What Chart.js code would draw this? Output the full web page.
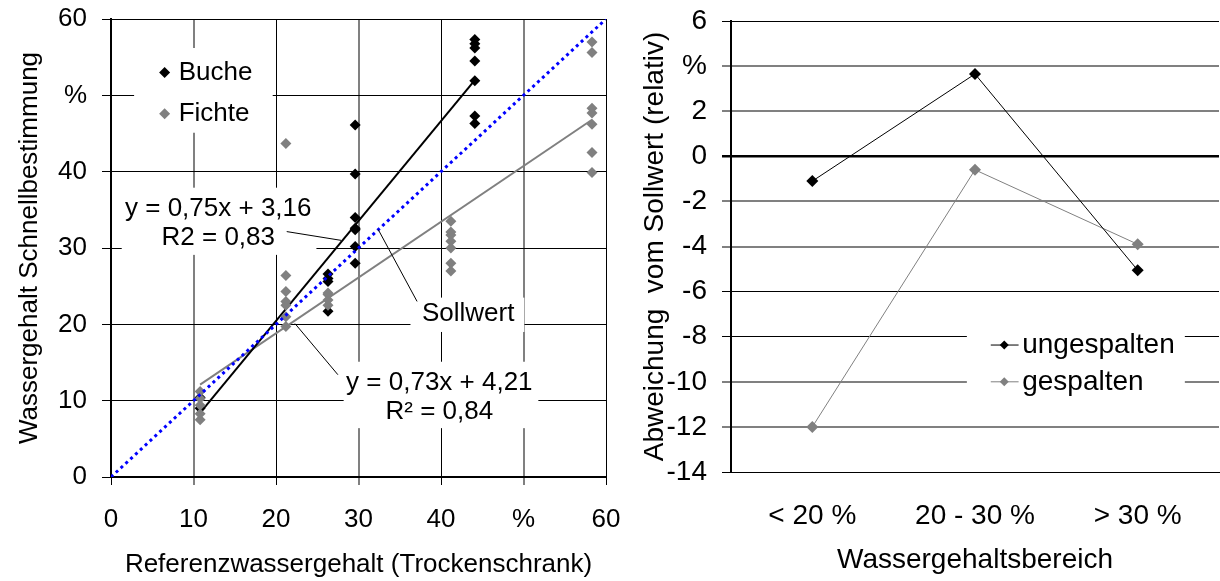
<!DOCTYPE html>
<html>
<head>
<meta charset="utf-8">
<script src="https://cdn.jsdelivr.net/npm/chart.js@4"></script>
<style>
html, body { margin: 0; padding: 0; background: #fff; overflow: hidden; width: 1220px; height: 581px; }
#left { position: absolute; left: 0; top: 0; width: 640px; height: 581px; }
#right { position: absolute; left: 625px; top: 0; width: 600px; height: 581px; }
</style>
</head>
<body>
<div id="left"><canvas id="scatterChart"></canvas></div>
<div id="right"><canvas id="lineChart"></canvas></div>
<script>
// ---- left chart data (Referenz vs. Schnellbestimmung, %) ----
var bucheX = [10.8, 10.8,
    26.3, 26.3, 26.3, 26.3,
    29.6, 29.6, 29.6, 29.6, 29.6, 29.6, 29.6,
    44.1, 44.1, 44.1, 44.1, 44.1, 44.1, 44.1];
var bucheY = [10.4, 9.0,
    26.6, 26.0, 25.6, 21.7,
    46.1, 39.7, 34.0, 32.6, 32.4, 30.2, 28.0,
    57.3, 56.75, 56.2, 54.5, 51.9, 47.3, 46.3];

var fichteX = [10.8, 10.8, 10.8, 10.8, 10.8,
    21.2, 21.2, 21.2, 21.2, 21.2, 21.2, 21.2,
    26.3, 26.3, 26.3, 26.3,
    41.2, 41.2, 41.2, 41.2, 41.2, 41.2, 41.2,
    58.3, 58.3, 58.3, 58.3, 58.3, 58.3, 58.3];
var fichteY = [11.2, 10.3, 9.4, 8.3, 7.5,
    43.7, 26.4, 24.3, 23.0, 22.5, 21.0, 19.7,
    24.1, 23.9, 23.2, 22.5,
    33.5, 32.1, 31.7, 30.9, 30.0, 28.0, 27.0,
    57.0, 55.6, 48.3, 47.7, 46.2, 42.5, 39.9];

// trend lines (end points) and target line
var bucheFitX = [10.8, 44.1];
var bucheFitY = [8.4, 52.0];
var fichteFitX = [10.8, 58.3];
var fichteFitY = [12.1, 46.8];
var sollX = [0, 60];
var sollY = [0, 60];

var axisTicks = [0, 10, 20, 30, 40, 50, 60];

// ---- right chart data (Abweichung vom Sollwert, %) ----
var ranges = ['< 20 %', '20 - 30 %', '> 30 %'];
var ungespalten = [-1.1, 3.65, -5.05];
var gespalten = [-12.0, -0.6, -3.9];

var FONT = "'Liberation Sans', Arial, sans-serif";
var GRAY = '#808080';

function pts(xs, ys) {
    var out = [];
    for (var i = 0; i < xs.length; i++) out.push({x: xs[i], y: ys[i]});
    return out;
}

function diamond(ctx, x, y, r, color) {
    ctx.beginPath();
    ctx.moveTo(x, y - r); ctx.lineTo(x + r, y); ctx.lineTo(x, y + r); ctx.lineTo(x - r, y);
    ctx.closePath();
    ctx.fillStyle = color;
    ctx.fill();
}

// no extra room for half tick labels, the plot edges are set by layout padding
function noPad(s) {
    s.paddingTop = 0; s.paddingBottom = 0; s.paddingLeft = 0; s.paddingRight = 0;
}

// labels inside the scatter plot (positions in data units)
var leftNotes = [
    {text: ['y = 0,75x + 3,16', 'R2 = 0,83'], x: 13.0, y: [35.1, 31.3], box: [1.3, 37.9, 24.9, 29.1]},
    {text: ['Sollwert'], x: 43.3, y: [21.4], box: [36.3, 23.5, 50.1, 19.0]},
    {text: ['y = 0,73x + 4,21', 'R\u00b2 = 0,84'], x: 39.8, y: [12.3, 8.55], box: [28.2, 15.1, 51.8, 6.4]}
];
var leftLeaders = [
    [21.3, 32.15, 27.9, 31.0],
    [32.4, 32.4, 37.1, 23.0],
    [22.3, 20.1, 27.5, 13.4]
];
var leftLegend = {box: [2.8, 56.2, 19.6, 45.1], markX: 6.5, textX: 8.2,
    rows: [{label: 'Buche', y: 53.0, color: '#000'}, {label: 'Fichte', y: 47.6, color: GRAY}]};

var notesPlugin = {
    id: 'notes',
    beforeDatasetsDraw: function (chart) {
        var sx = chart.scales.x, sy = chart.scales.y, ctx = chart.ctx;
        ctx.save();
        ctx.fillStyle = '#fff';
        leftNotes.concat([leftLegend]).forEach(function (n) {
            var x1 = sx.getPixelForValue(n.box[0]), y1 = sy.getPixelForValue(n.box[1]);
            var x2 = sx.getPixelForValue(n.box[2]), y2 = sy.getPixelForValue(n.box[3]);
            ctx.fillRect(x1, y1, x2 - x1, y2 - y1);
        });
        ctx.restore();
    },
    afterDatasetsDraw: function (chart) {
        var sx = chart.scales.x, sy = chart.scales.y, ctx = chart.ctx;
        ctx.save();
        ctx.strokeStyle = '#000';
        ctx.lineWidth = 1;
        leftLeaders.forEach(function (l) {
            ctx.beginPath();
            ctx.moveTo(sx.getPixelForValue(l[0]), sy.getPixelForValue(l[1]));
            ctx.lineTo(sx.getPixelForValue(l[2]), sy.getPixelForValue(l[3]));
            ctx.stroke();
        });
        ctx.font = '26px ' + FONT;
        ctx.fillStyle = '#000';
        ctx.textAlign = 'center';
        ctx.textBaseline = 'middle';
        leftNotes.forEach(function (n) {
            n.text.forEach(function (t, i) {
                ctx.fillText(t, sx.getPixelForValue(n.x), sy.getPixelForValue(n.y[i]));
            });
        });
        ctx.textAlign = 'left';
        leftLegend.rows.forEach(function (r) {
            var y = sy.getPixelForValue(r.y);
            diamond(ctx, sx.getPixelForValue(leftLegend.markX), y, 5.5, r.color);
            ctx.fillStyle = '#000';
            ctx.fillText(r.label, sx.getPixelForValue(leftLegend.textX), y);
        });
        ctx.restore();
    }
};

var ctx1 = document.getElementById('scatterChart').getContext('2d');
var chart1 = new Chart(ctx1, {
    type: 'scatter',
    data: {
        datasets: [{
            label: 'Sollwert',
            data: pts(sollX, sollY),
            showLine: true,
            borderColor: '#0000ff',
            borderWidth: 3,
            borderDash: [3, 3.6],
            pointRadius: 0,
            order: 0
        }, {
            label: 'Fichte',
            data: pts(fichteX, fichteY),
            pointStyle: 'rectRot',
            pointRadius: 5.5,
            backgroundColor: GRAY,
            borderColor: GRAY,
            borderWidth: 0,
            order: 1
        }, {
            label: 'Buche',
            data: pts(bucheX, bucheY),
            pointStyle: 'rectRot',
            pointRadius: 5.5,
            backgroundColor: '#000',
            borderColor: '#000',
            borderWidth: 0,
            order: 2
        }, {
            label: 'Trend Buche',
            data: pts(bucheFitX, bucheFitY),
            showLine: true,
            borderColor: '#000',
            borderWidth: 2,
            pointRadius: 0,
            order: 3
        }, {
            label: 'Trend Fichte',
            data: pts(fichteFitX, fichteFitY),
            showLine: true,
            borderColor: GRAY,
            borderWidth: 2,
            pointRadius: 0,
            order: 3
        }]
    },
    options: {
        responsive: true,
        maintainAspectRatio: false,
        animation: false,
        devicePixelRatio: 1,
        layout: { padding: { top: 19, right: 34, left: 0, bottom: 0 } },
        plugins: { legend: { display: false }, tooltip: { enabled: false } },
        scales: {
            x: {
                type: 'linear',
                min: 0, max: 60,
                afterBuildTicks: function (s) { s.ticks = axisTicks.map(function (v) { return {value: v}; }); },
                afterFit: function (s) { s.height = 104; noPad(s); },
                ticks: {
                    color: '#000', font: { size: 26, family: FONT }, padding: 19, maxRotation: 0,
                    callback: function (v) { return v === 50 ? '%' : v; }
                },
                grid: {
                    color: function (c) { return (c.tick && [10, 30, 50].indexOf(c.tick.value) >= 0) ? GRAY : '#000'; },
                    lineWidth: function (c) { return (c.tick && [10, 30, 50].indexOf(c.tick.value) >= 0) ? 2 : 1; },
                    tickLength: 8
                },
                border: { color: '#000', width: 2 },
                title: {
                    display: true, text: 'Referenzwassergehalt (Trockenschrank)', color: '#000',
                    font: { size: 26, family: FONT }, padding: { top: 0, bottom: 1 }
                }
            },
            y: {
                type: 'linear',
                min: 0, max: 60,
                afterBuildTicks: function (s) { s.ticks = axisTicks.map(function (v) { return {value: v}; }); },
                afterFit: function (s) { s.width = 111; noPad(s); },
                ticks: {
                    color: '#000', font: { size: 26, family: FONT }, padding: 15,
                    callback: function (v) { return v === 50 ? '%' : v; }
                },
                grid: { color: '#000', lineWidth: 1, tickLength: 9 },
                border: { color: '#000', width: 2 },
                title: {
                    display: true, text: 'Wassergehalt Schnellbestimmung', color: '#000',
                    font: { size: 26, family: FONT }, padding: { top: 14, bottom: 0 }
                }
            }
        }
    },
    plugins: [notesPlugin]
});

// ---- right chart ----
var rightLegend = {box: [0.95, -7.5, 2.29, -10.8], lineX: [1.097, 1.268], markX: 1.18, textX: 1.29,
    rows: [{label: 'ungespalten', y: -8.37, color: '#000'}, {label: 'gespalten', y: -10.0, color: GRAY}]};
var grayLevels = [4, 2, -2, -4, -10, -12];

var legendPlugin = {
    id: 'boxLegend',
    beforeDatasetsDraw: function (chart) {
        var sx = chart.scales.x, sy = chart.scales.y, ctx = chart.ctx, b = rightLegend.box;
        var x1 = sx.getPixelForValue(b[0]), y1 = sy.getPixelForValue(b[1]);
        var x2 = sx.getPixelForValue(b[2]), y2 = sy.getPixelForValue(b[3]);
        ctx.save();
        ctx.fillStyle = '#fff';
        ctx.fillRect(x1, y1, x2 - x1, y2 - y1);
        ctx.restore();
    },
    afterDatasetsDraw: function (chart) {
        var sx = chart.scales.x, sy = chart.scales.y, ctx = chart.ctx;
        ctx.save();
        ctx.font = '28px ' + FONT;
        ctx.textAlign = 'left';
        ctx.textBaseline = 'middle';
        rightLegend.rows.forEach(function (r) {
            var y = sy.getPixelForValue(r.y);
            ctx.strokeStyle = r.color;
            ctx.lineWidth = 1;
            ctx.beginPath();
            ctx.moveTo(sx.getPixelForValue(rightLegend.lineX[0]), y);
            ctx.lineTo(sx.getPixelForValue(rightLegend.lineX[1]), y);
            ctx.stroke();
            diamond(ctx, sx.getPixelForValue(rightLegend.markX), y, 4.5, r.color);
            ctx.fillStyle = '#000';
            ctx.fillText(r.label, sx.getPixelForValue(rightLegend.textX), y);
        });
        ctx.restore();
    }
};

var ctx2 = document.getElementById('lineChart').getContext('2d');
var chart2 = new Chart(ctx2, {
    type: 'line',
    data: {
        labels: ranges,
        datasets: [{
            label: 'ungespalten',
            data: ungespalten,
            borderColor: '#000',
            backgroundColor: '#000',
            borderWidth: 1,
            pointStyle: 'rectRot',
            pointRadius: 6,
            pointBorderWidth: 0
        }, {
            label: 'gespalten',
            data: gespalten,
            borderColor: GRAY,
            backgroundColor: GRAY,
            borderWidth: 1,
            pointStyle: 'rectRot',
            pointRadius: 6,
            pointBorderWidth: 0
        }]
    },
    options: {
        responsive: true,
        maintainAspectRatio: false,
        animation: false,
        devicePixelRatio: 1,
        layout: { padding: { top: 21, right: 1, left: 0, bottom: 0 } },
        plugins: { legend: { display: false }, tooltip: { enabled: false } },
        scales: {
            x: {
                offset: true,
                afterFit: function (s) { s.height = 109; noPad(s); },
                ticks: { color: '#000', font: { size: 28, family: FONT }, padding: 27, maxRotation: 0 },
                grid: { display: false, drawTicks: false },
                border: { display: true, color: '#000', width: 1 },
                title: {
                    display: true, text: 'Wassergehaltsbereich', color: '#000',
                    font: { size: 28, family: FONT }, padding: { top: 0, bottom: 4 }
                }
            },
            y: {
                min: -14, max: 6,
                ticks: {
                    stepSize: 2, color: '#000', font: { size: 28, family: FONT }, padding: 15,
                    callback: function (v) { return v === 4 ? '%' : v; }
                },
                afterFit: function (s) { s.width = 106; noPad(s); },
                grid: {
                    color: function (c) { return (c.tick && grayLevels.indexOf(c.tick.value) >= 0) ? GRAY : '#000'; },
                    lineWidth: function (c) {
                        if (!c.tick) return 1;
                        if (c.tick.value === 0) return 2.5;
                        return grayLevels.indexOf(c.tick.value) >= 0 ? 2 : 1;
                    },
                    tickLength: 9
                },
                border: { color: '#000', width: 2 },
                title: {
                    display: true, text: 'Abweichung  vom Sollwert (relativ)', color: '#000',
                    font: { size: 28, family: FONT }, padding: { top: 13, bottom: 0 }
                }
            }
        }
    },
    plugins: [legendPlugin]
});
</script>
</body>
</html>
